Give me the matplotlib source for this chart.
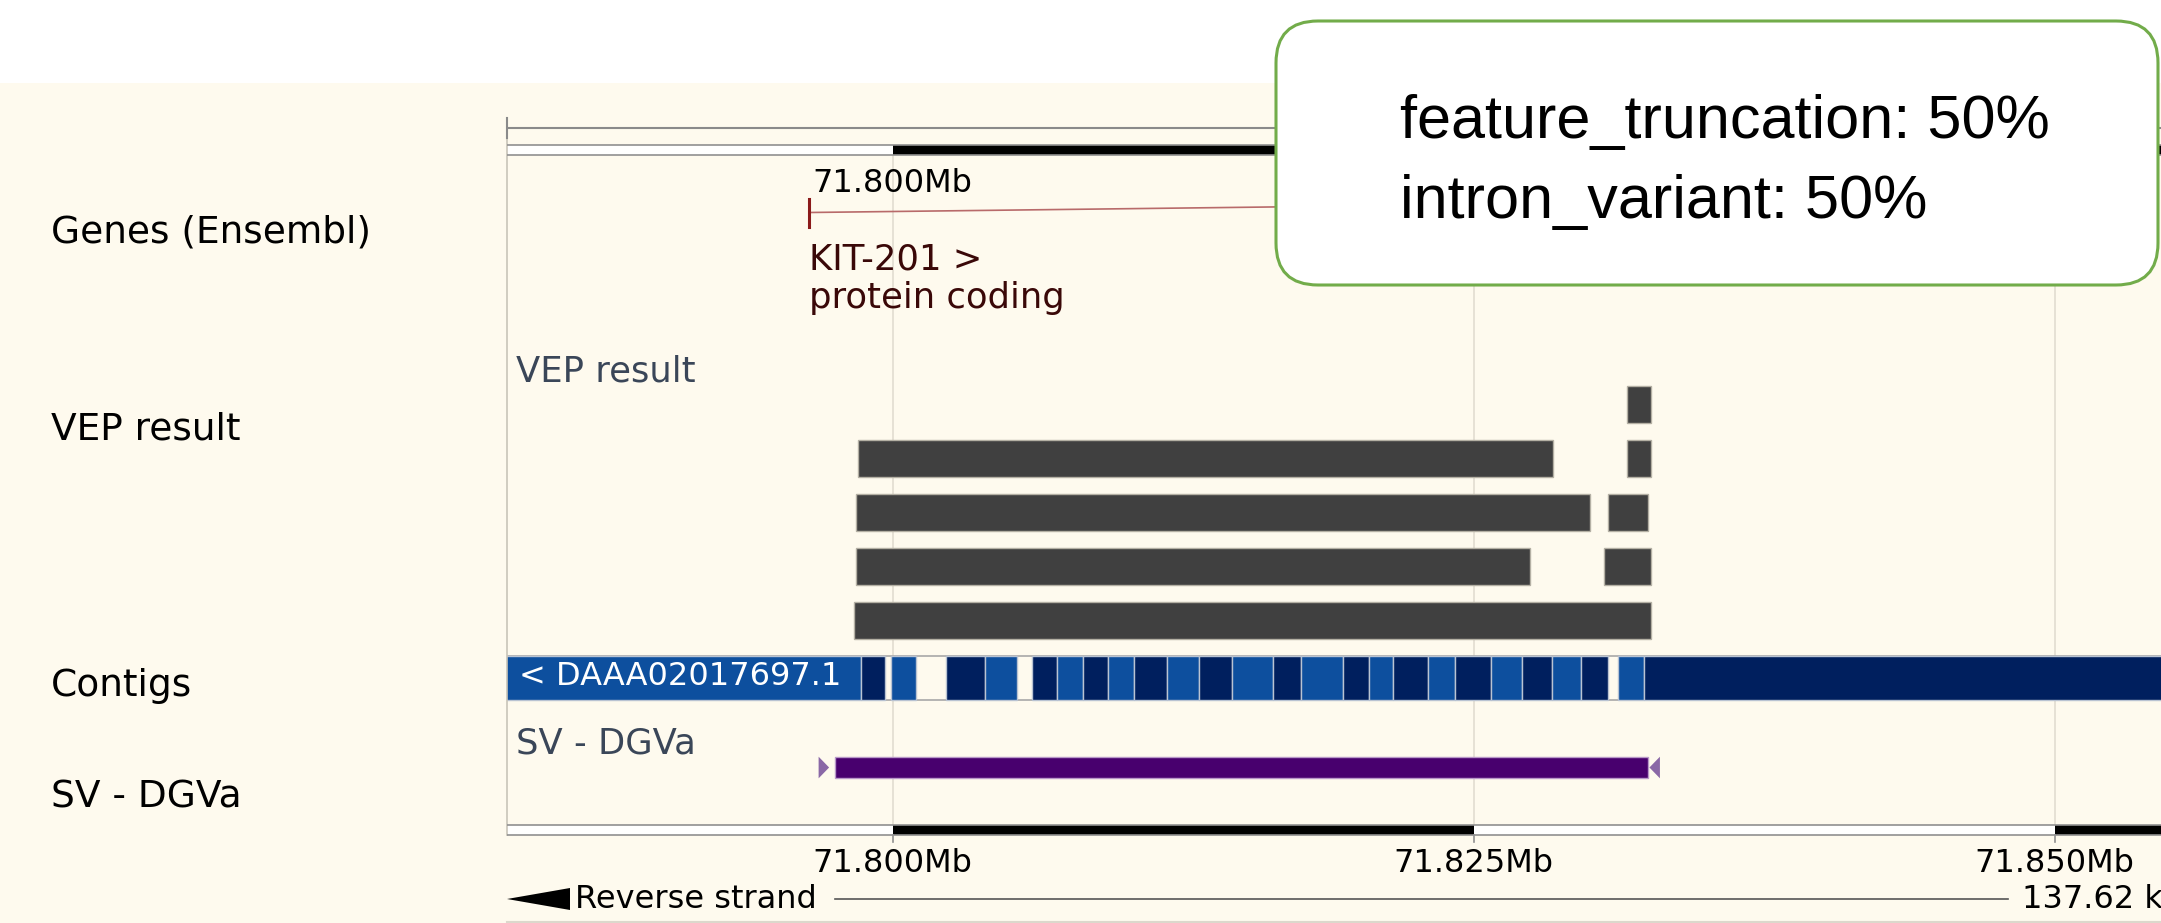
import matplotlib
matplotlib.use("Agg")
import matplotlib.pyplot as plt
from matplotlib.patches import Rectangle, Polygon, FancyBboxPatch

# ---- data (positions in Mb) ----
view_start, view_end = 71.78340, 71.85457
ticks = [71.800, 71.825, 71.850]
tick_labels = ["71.800Mb", "71.825Mb", "71.850Mb"]
scale_blocks = [71.775, 71.800, 71.825, 71.850, 71.875]

gene_start, gene_end = 71.79639, 71.84500
gene_name = "KIT-201 >"
gene_biotype = "protein coding"

# VEP result features: (start, end, row)
vep_start = [71.83158, 71.79852, 71.83158, 71.79841, 71.83079, 71.79841, 71.83059, 71.79832]
vep_end   = [71.83263, 71.82840, 71.83263, 71.83000, 71.83251, 71.82741, 71.83263, 71.83263]
vep_row   = [0, 1, 1, 2, 2, 3, 3, 4]

# contig pieces, 0 = mid blue, 1 = navy
contig_start = [71.78300, 71.79864, 71.79993, 71.80229, 71.80398, 71.80601, 71.80708,
                71.80818, 71.80925, 71.81038, 71.81179, 71.81318, 71.81459, 71.81635,
                71.81756, 71.81936, 71.82047, 71.82154, 71.82305, 71.82417, 71.82574,
                71.82707, 71.82836, 71.82960, 71.83120, 71.83233]
contig_end   = [71.79864, 71.79967, 71.80102, 71.80398, 71.80536, 71.80708, 71.80818,
                71.80925, 71.81038, 71.81179, 71.81318, 71.81459, 71.81635, 71.81756,
                71.81936, 71.82047, 71.82154, 71.82305, 71.82417, 71.82574, 71.82707,
                71.82836, 71.82960, 71.83079, 71.83233, 71.86000]
contig_kind  = [0, 1, 0, 1, 0, 1, 0, 1, 0, 1, 0, 1, 0, 1, 0, 1, 0, 1, 0, 1, 0, 1, 0, 1, 0, 1]
contig_name = "< DAAA02017697.1"

sv_start, sv_end = 71.79751, 71.83251

track_names = ["Genes (Ensembl)", "VEP result", "Contigs", "SV - DGVa"]
popup_lines = ["feature_truncation: 50%", "intron_variant: 50%"]
region_length = "137.62 kb"

# ---- style ----
W, H = 2161, 923
cream = "#fefaee"
mid_blue = "#0d4f9e"
navy = "#001f5e"
px_per_mb = 23240.0

fig = plt.figure(figsize=(W / 100, H / 100), dpi=100, facecolor="white")

bg = fig.add_axes([0, 0, 1, 1], zorder=0)
bg.set_xlim(0, W)
bg.set_ylim(H, 0)
bg.axis("off")
bg.add_patch(Rectangle((0, 83), W, H - 83, facecolor=cream, edgecolor="none"))

label_base = [243, 439, 696, 807]
for name, yb in zip(track_names, label_base):
    bg.text(51, yb, name, fontsize=27, va="baseline", ha="left", color="black")

left = 507
ax = fig.add_axes([left / W, 0, 1 - left / W, 1], zorder=1)
ax.set_xlim(view_start, view_end)
ax.set_ylim(H, 0)
ax.axis("off")
ax.patch.set_alpha(0)

# panel left border and grid lines
ax.plot([view_start, view_start], [118, 835], color="#c8c4b8", lw=1.2, clip_on=False)
for t in ticks:
    ax.plot([t, t], [150, 830], color="#e2ddd0", lw=1.2, zorder=0)

# top region line
ax.plot([view_start, view_end], [128, 128], color="#8a8a8a", lw=1.5)
ax.plot([view_start, view_start], [118, 138], color="#8a8a8a", lw=1.5, clip_on=False)


def scale_bar(y0, h):
    for i in range(len(scale_blocks) - 1):
        c = "white" if i % 2 == 0 else "black"
        ax.add_patch(Rectangle((scale_blocks[i], y0), scale_blocks[i + 1] - scale_blocks[i], h,
                               facecolor=c, edgecolor="none"))
    ax.plot([view_start, view_end], [y0, y0], color="#909090", lw=1.2)
    ax.plot([view_start, view_end], [y0 + h, y0 + h], color="#909090", lw=1.2)


scale_bar(145, 10)
scale_bar(825, 10)

# tick labels
ax.text(ticks[0], 191.5, tick_labels[0], fontsize=23, ha="center", va="baseline")
for t, lab in zip(ticks, tick_labels):
    ax.plot([t, t], [835, 842], color="#909090", lw=1.2)
    ax.text(t, 871.5, lab, fontsize=23, ha="center", va="baseline")

# gene
ax.plot([gene_start, gene_end], [212.5, 199], color="#b86a6a", lw=1.2)
ax.plot([gene_start, gene_start], [199, 227], color="#8b1a1a", lw=2.2)
ax.text(gene_start, 270, gene_name, fontsize=25.5, color="#3a0808", va="baseline")
ax.text(gene_start, 308, gene_biotype, fontsize=25.5, color="#3a0808", va="baseline")

# VEP track
ax.text(view_start + 8.5 / px_per_mb, 381.5, "VEP result", fontsize=25.5, color="#3a4658",
        va="baseline")
row_top = [385.5, 439.5, 493.5, 547.5, 601.5]
for s, e, r in zip(vep_start, vep_end, vep_row):
    ax.add_patch(Rectangle((s, row_top[r]), e - s, 37.5, facecolor="#404040",
                           edgecolor="#b4b0a4", lw=1.0))

# contigs
ax.add_patch(Rectangle((view_start, 655.5), 0.1, 44.5, facecolor="none",
                       edgecolor="#a8a8a8", lw=1.2))
for s, e, k in zip(contig_start, contig_end, contig_kind):
    ax.add_patch(Rectangle((s, 655.5), e - s, 44.5, facecolor=navy if k else mid_blue,
                           edgecolor="#b9c3d2", lw=1.0))
ax.text(view_start + 12 / px_per_mb, 685, contig_name, fontsize=23, color="white",
        va="baseline")

# SV - DGVa
ax.text(view_start + 8.5 / px_per_mb, 753.5, "SV - DGVa", fontsize=25.5, color="#3a4658",
        va="baseline")
ax.add_patch(Rectangle((sv_start, 756.7), sv_end - sv_start, 21.6, facecolor="#48006e",
                       edgecolor="#b898c8", lw=1.0))
tw = 10.5 / px_per_mb
gap = 5.8 / px_per_mb
ax.add_patch(Polygon([(sv_start - gap - tw, 756.7), (sv_start - gap, 767.5),
                      (sv_start - gap - tw, 778.3)], closed=True, facecolor="#8a68a6",
                     edgecolor="none"))
g2 = 1.1 / px_per_mb
ax.add_patch(Polygon([(sv_end + g2 + tw, 756.7), (sv_end + g2, 767.5),
                      (sv_end + g2 + tw, 778.3)], closed=True, facecolor="#8a68a6",
                     edgecolor="none"))

# strand / length line
ov = fig.add_axes([0, 0, 1, 1], zorder=2)
ov.set_xlim(0, W)
ov.set_ylim(H, 0)
ov.axis("off")
ov.patch.set_alpha(0)
ov.add_patch(Polygon([(507, 899), (570, 888), (570, 910)], closed=True, facecolor="black",
                     edgecolor="none"))
ov.text(575, 908, "Reverse strand", fontsize=23, va="baseline")
ov.plot([835, 2008], [899, 899], color="#555555", lw=1.2)
ov.text(2022, 908, region_length, fontsize=23, va="baseline", clip_on=False)
ov.plot([507, W], [921.5, 921.5], color="#dcd8cc", lw=1.5)

# popup
ov.add_patch(FancyBboxPatch((1276, 21), 882, 264, boxstyle="round,pad=0,rounding_size=42",
                            facecolor="white", edgecolor="#72ac4a", lw=2.2))
ov.text(1400, 138, popup_lines[0], fontsize=44, family="Liberation Sans", va="baseline")
ov.text(1400, 218, popup_lines[1], fontsize=44, family="Liberation Sans", va="baseline")

fig.savefig("out.png", dpi=100, facecolor="white")
